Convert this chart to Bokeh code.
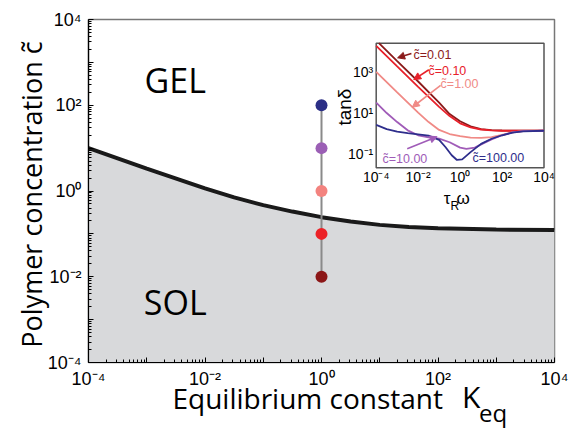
import math
from bokeh.plotting import figure
from bokeh.models import (FixedTicker, Range1d, LogScale, Arrow, NormalHead, Label,
                          CustomJSTickFormatter, Div)
from bokeh.layouts import column
from bokeh.core.properties import value
from bokeh.embed import file_html
from bokeh.resources import INLINE

# ---------------- data ----------------
# phase boundary (log10 Keq, log10 c)
boundary_logK = [-4, -3, -2, -1.5, -1, -0.5, 0, 0.5, 1, 1.5, 2, 3, 4]
boundary_logc = [1.0, 0.52, 0.06, -0.15, -0.33, -0.48, -0.61, -0.71, -0.79, -0.84, -0.87, -0.9, -0.91]

# sampled states at Keq = 1
state_K = [1, 1, 1, 1, 1]
state_c = [100, 10, 1, 0.1, 0.01]
state_colors = ["#2b2f86", "#9b5fb5", "#f3837f", "#ec2227", "#8c1717"]

# inset: tan(delta) vs tau_R*omega (log10 values)
inset_names = ["0.01", "0.10", "1.00", "10.00", "100.00"]
inset_colors = ["#8b1a1a", "#e8202a", "#f08a86", "#a05cb8", "#2e2e8c"]
inset_logw = [
    [-3.87, -3, -2, -1, -0.5, 0, 0.5, 1, 1.5, 2, 3, 4],
    [-4, -3, -2, -1, -0.5, 0, 0.5, 1, 1.5, 2, 3, 4],
    [-4, -3, -2, -1.5, -1, -0.5, 0, 0.5, 1, 1.5, 2, 2.5, 3, 4],
    [-4, -3.5, -3, -2.5, -2, -1.5, -1, -0.5, 0, 0.3, 0.7, 1.15, 1.5, 2, 2.5, 3, 4],
    [-4, -3.5, -3, -2.5, -2, -1.5, -1, -0.7, -0.4, -0.15, 0.1, 0.5, 1, 1.5, 2, 2.5, 3, 4],
]
inset_logtan = [
    [4.39, 3.52, 2.53, 1.5, 0.95, 0.6, 0.35, 0.22, 0.17, 0.15, 0.14, 0.14],
    [4.26, 3.26, 2.27, 1.3, 0.85, 0.5, 0.3, 0.2, 0.16, 0.14, 0.14, 0.14],
    [3.0, 2.0, 1.02, 0.56, 0.18, -0.02, -0.12, -0.19, -0.21, -0.17, -0.06, 0.06, 0.12, 0.14],
    [1.5, 1.0, 0.56, 0.16, -0.08, -0.18, -0.24, -0.42, -0.68, -0.74, -0.68, -0.45, -0.28, -0.08, 0.06, 0.12, 0.14],
    [0.42, 0.22, 0.1, 0.02, -0.04, -0.1, -0.3, -0.65, -1.05, -1.28, -1.25, -0.9, -0.5, -0.25, -0.08, 0.05, 0.11, 0.14],
]
inset_xticks = [-4, -2, 0, 2, 4]
inset_yticks = [-1, 1, 3]

x_title = "Equilibrium constant"
x_title_sym = "K"
x_title_sub = "eq"
y_title = "Polymer concentration  c\u0303"

# ---------------- layout constants ----------------
FL, FT, FW, FH = 88, 19, 466, 343          # main frame in figure px
IL, IR, IT, IB = 375.7, 543.5, 42.7, 167.3  # inset frame in figure px
IN_X = (-4.0, 4.0)
IN_Y = (-1.66, 4.39)

p = figure(x_axis_type="log", y_axis_type="log", x_range=(1e-4, 1e4), y_range=(1e-4, 1e4),
           frame_width=FW, frame_height=FH, min_border_left=FL, min_border_right=16,
           min_border_top=FT, min_border_bottom=27, output_backend="svg",
           toolbar_location=None, background_fill_color="white")
p.xgrid.visible = False
p.ygrid.visible = False
p.outline_line_color = "#777777"
p.outline_line_width = 1.5

sup_js = """
const k = Math.round(Math.log10(tick));
if (k % 2 != 0) return "";
const m = {"0":"\u2070","1":"\u00b9","2":"\u00b2","3":"\u00b3","4":"\u2074","-":"\u207b"};
return "10" + String(k).split("").map(c => m[c]).join("");
"""
for ax in (p.xaxis[0], p.yaxis[0]):
    ax.ticker = FixedTicker(ticks=[10.0 ** k for k in range(-4, 5)],
                            minor_ticks=[m * 10.0 ** k for k in range(-4, 4) for m in range(2, 10)])
    ax.formatter = CustomJSTickFormatter(code=sup_js)
    ax.major_tick_in = 5
    ax.major_tick_out = 0
    ax.minor_tick_in = 3
    ax.minor_tick_out = 0
    ax.axis_line_color = "black"
    ax.axis_line_width = 1.2
    ax.major_tick_line_color = "black"
    ax.minor_tick_line_color = "black"
    ax.major_label_text_font = "Liberation Sans"
    ax.major_label_text_font_size = "18px"
    ax.major_label_text_color = "black"
p.xaxis.major_label_standoff = 6
p.yaxis.major_label_standoff = 7
p.yaxis.axis_label = y_title
p.yaxis.axis_label_text_font = "Open Sans"
p.yaxis.axis_label_text_font_size = "27px"
p.yaxis.axis_label_text_font_style = "normal"
p.yaxis.axis_label_text_color = "black"
p.yaxis.axis_label_standoff = -5

# extra ranges mapping the inset into its sub-rectangle
sx = (IR - IL) / (IN_X[1] - IN_X[0])
sy = (IB - IT) / (IN_Y[1] - IN_Y[0])
ex0 = IN_X[0] - (IL - FL) / sx
ex1 = IN_X[1] + (FL + FW - IR) / sx
ey1 = IN_Y[1] + (IT - FT) / sy
ey0 = IN_Y[0] - (FT + FH - IB) / sy
p.extra_x_ranges = {"inset": Range1d(10 ** ex0, 10 ** ex1)}
p.extra_y_ranges = {"inset": Range1d(10 ** ey0, 10 ** ey1)}
p.extra_x_scales = {"inset": LogScale()}
p.extra_y_scales = {"inset": LogScale()}

# ---------------- main plot ----------------
bK = [10 ** v for v in boundary_logK]
bc = [10 ** v for v in boundary_logc]
p.varea(x=bK, y1=[1e-4] * len(bK), y2=bc, fill_color="#d8d9db")
p.line(bK, bc, line_color="#1a1a1a", line_width=4)
p.segment(x0=[state_K[0]], y0=[min(state_c)], x1=[state_K[0]], y1=[max(state_c)],
          line_color="#8a8a8a", line_width=2)
p.scatter(state_K, state_c, size=12, fill_color=state_colors, line_color=None)

p.text(x=[10 ** -2.51], y=[10 ** 2.58], text=["GEL"], text_align="center", text_baseline="middle",
       text_font=value("Open Sans"), text_font_size="34px", text_color="black")
p.text(x=[10 ** -2.51], y=[10 ** -2.6], text=["SOL"], text_align="center", text_baseline="middle",
       text_font=value("Open Sans"), text_font_size="34px", text_color="black")

# ---------------- inset ----------------
ik = dict(x_range_name="inset", y_range_name="inset")
p.quad(left=[10 ** IN_X[0]], right=[10 ** IN_X[1]], bottom=[10 ** IN_Y[0]], top=[10 ** IN_Y[1]],
       fill_color="white", line_color="#555555", line_width=1.5, **ik)
for lw, lt, col in zip(inset_logw, inset_logtan, inset_colors):
    p.line([10 ** v for v in lw], [10 ** v for v in lt], line_color=col, line_width=1.8, **ik)

sup = {"0": "\u2070", "1": "\u00b9", "2": "\u00b2", "3": "\u00b3", "4": "\u2074", "-": "\u207b"}
def lab(k):
    return "10" + "".join(sup[c] for c in str(k))

p.text(x=[10 ** k for k in inset_xticks], y=[10 ** IN_Y[0]] * len(inset_xticks),
       text=[lab(k) for k in inset_xticks], text_align="center", text_baseline="top", y_offset=1,
       text_font=value("Liberation Sans"), text_font_size="14px", text_color="black", **ik)
p.text(x=[10 ** IN_X[0]] * len(inset_yticks), y=[10 ** k for k in inset_yticks],
       text=[lab(k) for k in inset_yticks], text_align="right", text_baseline="middle", x_offset=-3,
       text_font=value("Liberation Sans"), text_font_size="14px", text_color="black", **ik)
# y title of the inset, centred ~32 px left of the inset frame
p.add_layout(Label(x=10 ** (IN_X[0] - 32 / sx), y=10 ** 1.29, text="tan\u03b4", angle=math.pi / 2,
                   text_align="center", text_baseline="middle", text_font="Liberation Sans",
                   text_font_size="19px", text_color="black", **ik))
p.text(x=[1], y=[10 ** IN_Y[0]], text=["\u03c4"], x_offset=-9.6, y_offset=30.7, text_align="right",
       text_baseline="alphabetic", text_font=value("Liberation Sans"), text_font_size="17px",
       text_color="black", **ik)
p.text(x=[1], y=[10 ** IN_Y[0]], text=["R"], x_offset=-9.6, y_offset=37.7, text_align="left",
       text_baseline="alphabetic", text_font=value("Liberation Sans"), text_font_size="12px",
       text_color="black", **ik)
p.text(x=[1], y=[10 ** IN_Y[0]], text=["\u03c9"], x_offset=-3.6, y_offset=30.7, text_align="left",
       text_baseline="alphabetic", text_font=value("Liberation Sans"), text_font_size="17px",
       text_color="black", **ik)

# curve labels
lab_logw = [-2.22, -1.51, -0.93, -3.7, 0.59]
lab_logt = [3.84, 3.06, 2.41, -1.21, -1.16]
p.text(x=[10 ** v for v in lab_logw], y=[10 ** v for v in lab_logt],
       text=["c\u0303=" + n for n in inset_names], text_align="left", text_baseline="middle",
       text_font=value("Liberation Sans"), text_font_size="12.5px", text_color=inset_colors, **ik)

# arrows (start logw, start logt, end logw, end logt, curve index)
arr = [(-2.32, 3.89, -2.98, 3.68, 0), (-1.49, 3.10, -2.21, 2.62, 1),
       (-0.93, 2.34, -2.28, 1.28, 2), (-2.52, -0.74, -1.1, -0.15, 3)]
for a0, b0, a1, b1, ci in arr:
    col = inset_colors[ci]
    p.add_layout(Arrow(end=NormalHead(size=7, fill_color=col, line_color=col),
                       x_start=10 ** a0, y_start=10 ** b0, x_end=10 ** a1, y_end=10 ** b1,
                       line_color=col, line_width=1.6, **ik))

# x-axis title (with subscript) below the figure
html = (
    '<div style="position:relative;width:570px;height:40px;font-family:\'Open Sans\';color:black;">'
    f'<span style="position:absolute;right:127px;top:-7px;font-size:28px;line-height:28px;white-space:nowrap;">{x_title}</span>'
    f'<span style="position:absolute;left:462px;top:-9px;font-size:30px;line-height:30px;">{x_title_sym}</span>'
    f'<span style="position:absolute;left:479px;top:10px;font-size:24px;line-height:24px;">{x_title_sub}</span>'
    '</div>'
)
div = Div(text=html, width=570, height=40, margin=(0, 0, 0, 0))

layout = column(p, div, spacing=0)
open("out.html", "w").write(file_html(layout, INLINE))
